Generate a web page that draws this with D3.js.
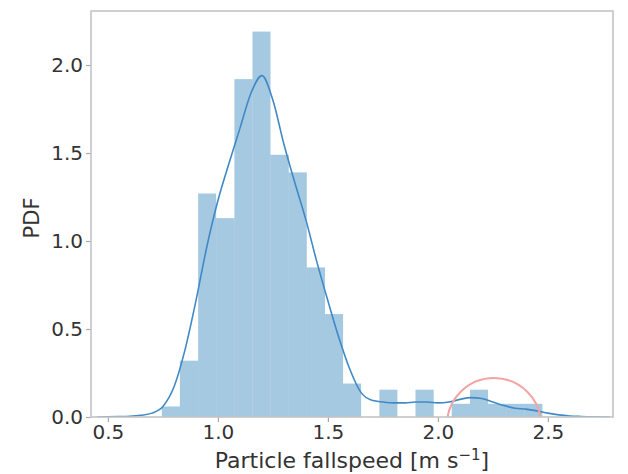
<!DOCTYPE html>
<html lang="en">
  <head>
    <meta charset="utf-8" />
    <title>Particle fallspeed PDF</title>
    <script src="https://d3js.org/d3.v7.min.js"></script>
    <style>
      body { margin: 0; background: #fff; }
      svg { display: block; }
      .tick text { font-family: "DejaVu Sans", sans-serif; font-size: 20px; fill: #333; }
      .tick line { stroke: #aaa; stroke-width: 1.2; }
      .domain { display: none; }
    </style>
  </head>
  <body>
    <svg width="628" height="474"></svg>
  </body>
  <script>
    // Histogram bins (edges) and density heights
    const binEdges = [0.745, 0.827, 0.910, 0.992, 1.075, 1.157, 1.239, 1.322, 1.404, 1.487,
                      1.569, 1.651, 1.734, 1.816, 1.898, 1.981, 2.063, 2.146, 2.228, 2.310,
                      2.393, 2.475];
    const density = [0.06, 0.32, 1.27, 1.13, 1.92, 2.19, 1.49, 1.39, 0.85, 0.585,
                     0.19, 0, 0.155, 0, 0.155, 0, 0.075, 0.155, 0.075, 0.075, 0.075];

    // KDE curve
    const kdeX = [0.45, 0.5, 0.55, 0.6, 0.65, 0.7, 0.75, 0.8, 0.85, 0.9, 0.95, 1.0, 1.05, 1.1,
                  1.15, 1.2, 1.25, 1.3, 1.35, 1.4, 1.45, 1.5, 1.55, 1.6, 1.65, 1.7, 1.75, 1.8,
                  1.85, 1.9, 1.95, 2.0, 2.05, 2.1, 2.15, 2.2, 2.25, 2.3, 2.35, 2.4, 2.45, 2.5,
                  2.55, 2.6, 2.65, 2.7, 2.78];
    const kdeY = [0.0, 0.001, 0.002, 0.004, 0.01, 0.022, 0.06, 0.17, 0.38, 0.66, 0.97, 1.23, 1.44, 1.64,
                  1.84, 1.94, 1.8, 1.55, 1.33, 1.12, 0.88, 0.66, 0.45, 0.27, 0.14, 0.095, 0.085, 0.08,
                  0.08, 0.085, 0.085, 0.08, 0.085, 0.1, 0.11, 0.105, 0.085, 0.065, 0.05, 0.045, 0.035, 0.022,
                  0.012, 0.006, 0.003, 0.001, 0.0];

    const xTicks = [0.5, 1.0, 1.5, 2.0, 2.5];
    const yTicks = [0.0, 0.5, 1.0, 1.5, 2.0];

    // Highlight ellipse (centre x, centre y, radius x, radius y) in data units
    const highlight = [2.255, -0.045, 0.214, 0.267];

    const svg = d3.select('svg');
    const plotLeft = 91, plotRight = 613, plotTop = 11, plotBottom = 417;

    const xScale = d3.scaleLinear().domain([0.423, 2.796]).range([plotLeft, plotRight]);
    const yScale = d3.scaleLinear().domain([0, 2.307]).range([plotBottom, plotTop]);

    svg.append('clipPath').attr('id', 'plot')
      .append('rect')
      .attr('x', plotLeft).attr('y', plotTop)
      .attr('width', plotRight - plotLeft).attr('height', plotBottom - plotTop);

    const plot = svg.append('g').attr('clip-path', 'url(#plot)');

    // Bars
    plot.selectAll('rect.bar')
      .data(density)
      .join('rect')
      .attr('class', 'bar')
      .attr('x', (d, i) => xScale(binEdges[i]))
      .attr('width', (d, i) => xScale(binEdges[i + 1]) - xScale(binEdges[i]))
      .attr('y', d => yScale(d))
      .attr('height', d => yScale(0) - yScale(d))
      .attr('fill', '#1f77b4')
      .attr('fill-opacity', 0.4);

    // KDE line
    const line = d3.line()
      .x(d => xScale(d[0]))
      .y(d => yScale(d[1]))
      .curve(d3.curveMonotoneX);

    plot.append('path')
      .datum(d3.zip(kdeX, kdeY))
      .attr('d', line)
      .attr('fill', 'none')
      .attr('stroke', '#4089c6')
      .attr('stroke-width', 1.6);

    // Red circle annotation
    plot.append('ellipse')
      .attr('cx', xScale(highlight[0]))
      .attr('cy', yScale(highlight[1]))
      .attr('rx', xScale(highlight[0] + highlight[2]) - xScale(highlight[0]))
      .attr('ry', yScale(0) - yScale(highlight[3]))
      .attr('fill', 'none')
      .attr('stroke', '#f2a3a3')
      .attr('stroke-width', 2);

    // Axes
    svg.append('g')
      .attr('transform', `translate(0, ${plotBottom})`)
      .call(d3.axisBottom(xScale).tickValues(xTicks).tickFormat(d3.format('.1f')).tickSize(5).tickPadding(3));

    svg.append('g')
      .attr('transform', `translate(${plotLeft}, 0)`)
      .call(d3.axisLeft(yScale).tickValues(yTicks).tickFormat(d3.format('.1f')).tickSize(5).tickPadding(3));

    // Frame
    svg.append('rect')
      .attr('x', plotLeft).attr('y', plotTop)
      .attr('width', plotRight - plotLeft).attr('height', plotBottom - plotTop)
      .attr('fill', 'none')
      .attr('stroke', '#c4c4c4')
      .attr('stroke-width', 1.6);

    // Axis labels
    const xLabel = svg.append('text')
      .attr('x', 352)
      .attr('y', 468)
      .attr('text-anchor', 'middle')
      .style('font-family', '"DejaVu Sans", sans-serif')
      .style('font-size', '22px')
      .style('fill', '#333');
    xLabel.append('tspan').text('Particle fallspeed [m s');
    xLabel.append('tspan').attr('dy', -8).style('font-size', '15px').text('\u22121');
    xLabel.append('tspan').attr('dy', 8).text(']');

    svg.append('text')
      .attr('transform', 'translate(39, 218) rotate(-90)')
      .attr('text-anchor', 'middle')
      .style('font-family', '"DejaVu Sans", sans-serif')
      .style('font-size', '21px')
      .style('fill', '#333')
      .text('PDF');
  </script>
</html>
